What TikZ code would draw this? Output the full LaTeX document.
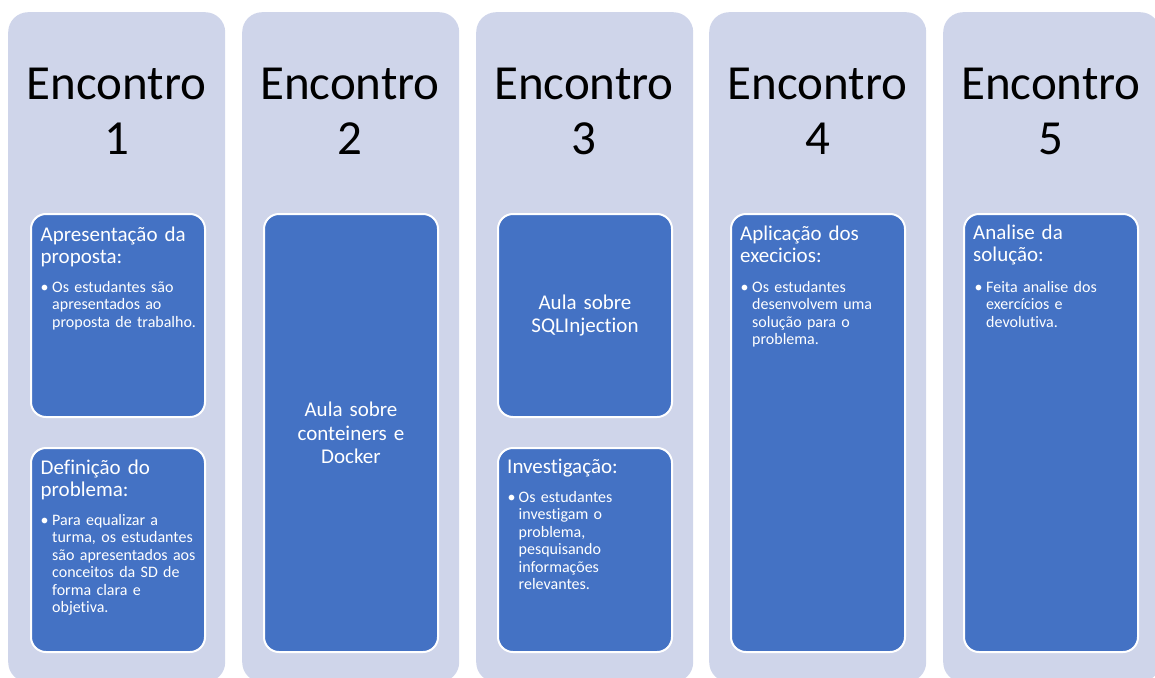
\documentclass[tikz,border=0pt]{standalone}
\usepackage{fontspec}
\setmainfont{Carlito}[Ligatures=NoCommon]
\definecolor{lav}{HTML}{CFD5EA}
\definecolor{blu}{HTML}{4472C4}
\begin{document}
\begin{tikzpicture}[x=1pt,y=-1pt,
 colbox/.style={fill=lav, rounded corners=20pt, inner sep=0, minimum width=217pt, minimum height=670pt, anchor=north west},
 card/.style={fill=blu, draw=white, line width=2pt, rounded corners=15pt, inner sep=0, minimum width=174pt, anchor=north west},
 ttl/.style={anchor=base, inner sep=0, text width=215pt, align=center, font=\fontsize{49}{55}\selectfont},
 hd/.style={anchor=base west, inner sep=0, text width=175pt, align=left, text=white, font=\fontsize{21}{22}\selectfont},
 bul/.style={anchor=base west, inner sep=0, text=white, font=\fontsize{16}{17.5}\selectfont},
 btx/.style={anchor=base west, inner sep=0, text width=165pt, align=left, text=white, font=\fontsize{16}{17.5}\selectfont},
 ctr/.style={anchor=center, inner sep=0, text width=170pt, align=center, text=white, font=\fontsize{21}{23.5}\selectfont}]
\useasboundingbox (0,0) rectangle (1155,677);
\clip (0,0) rectangle (1155,677);
% columns
\node[colbox] (col1) at (8,12) {};
\node[colbox] (col2) at (242,12) {};
\node[colbox] (col3) at (476,12) {};
\node[colbox] (col4) at (709,12) {};
\node[colbox] (col5) at (943,12) {};
% titles
\node[ttl] (t1) at (116.5,99) {Encontro\\1};
\node[ttl] (t2) at (350,99) {Encontro\\2};
\node[ttl] (t3) at (584,99) {Encontro\\3};
\node[ttl] (t4) at (817.5,99) {Encontro\\4};
\node[ttl] (t5) at (1051,99) {Encontro\\5};
% cards
\node[card, minimum height=203pt] (c1a) at (30,213) {};
\node[card, minimum height=204pt] (c1b) at (30,447) {};
\node[card, minimum height=438pt] (c2) at (263,213) {};
\node[card, minimum height=203pt] (c3a) at (497,213) {};
\node[card, minimum height=204pt] (c3b) at (497,447) {};
\node[card, minimum height=438pt] (c4) at (730,213) {};
\node[card, minimum height=438pt] (c5) at (963,213) {};
% column 1
\node[hd] (h1a) at (40.5,241) {Apresentação da\\proposta:};
\node[bul] (b1a) at (40.5,292) {•};
\node[btx] (x1a) at (52,292) {Os estudantes são\\apresentados ao\\proposta de trabalho.};
\node[hd] (h1b) at (40.5,474) {Definição do\\problema:};
\node[bul] (b1b) at (40.5,525) {•};
\node[btx] (x1b) at (52,525) {Para equalizar a\\turma, os estudantes\\são apresentados aos\\conceitos da SD de\\forma clara e\\objetiva.};
% column 2
\node[ctr] (m2) at (c2.center) {Aula sobre\\conteiners e\\Docker};
% column 3
\node[ctr] (m3) at (c3a.center) {Aula sobre\\SQLInjection};
\node[hd] (h3b) at (507,473) {Investigação:};
\node[bul] (b3b) at (507.5,502) {•};
\node[btx] (x3b) at (518.5,502) {Os estudantes\\investigam o\\problema,\\pesquisando\\informações\\relevantes.};
% column 4
\node[hd] (h4) at (740,240) {Aplicação dos\\execicios:};
\node[bul] (b4) at (740.5,292) {•};
\node[btx] (x4) at (752,292) {Os estudantes\\desenvolvem uma\\solução para o\\problema.};
% column 5
\node[hd] (h5) at (973,239) {Analise da\\solução:};
\node[bul] (b5) at (974.5,292) {•};
\node[btx] (x5) at (986,292) {Feita analise dos\\exercícios e\\devolutiva.};
\end{tikzpicture}
\end{document}
